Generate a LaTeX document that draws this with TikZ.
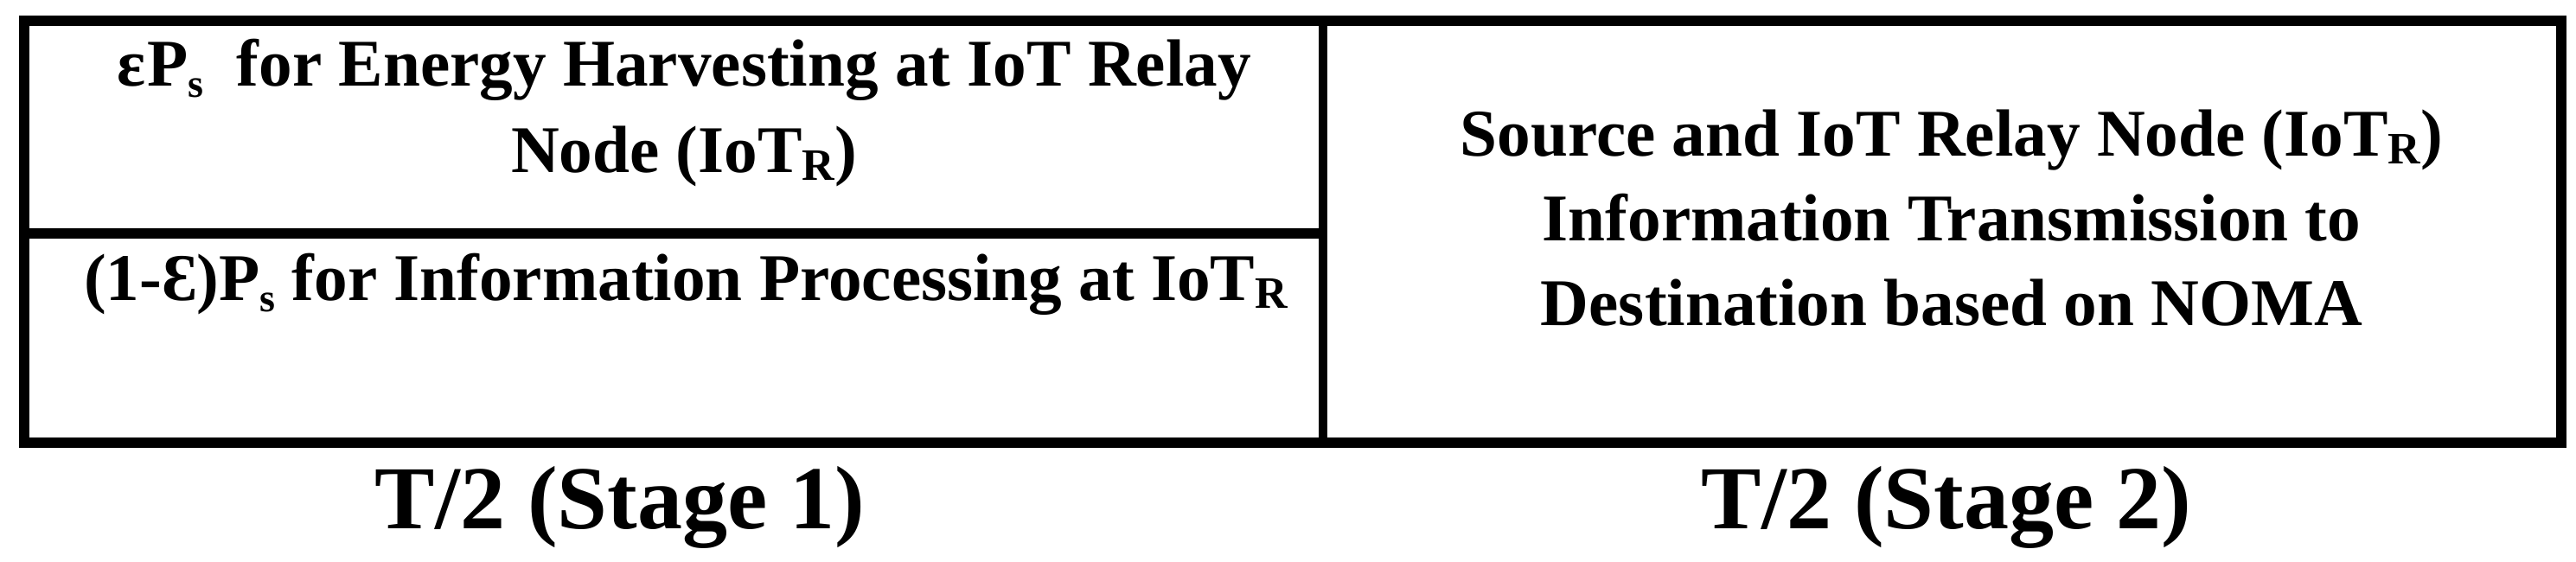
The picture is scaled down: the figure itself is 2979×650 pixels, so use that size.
\documentclass[tikz,border=0pt]{standalone}
\usepackage{fontspec}
\setmainfont{Liberation Serif}
\newcommand{\mysubR}[1]{\raisebox{-0.25ex}{\fontsize{13pt}{13pt}\selectfont #1}}
\newcommand{\mysubs}[1]{\raisebox{-0.35ex}{\fontsize{11.5pt}{12pt}\selectfont #1}}
\begin{document}
\begin{tikzpicture}[x=0.25pt,y=-0.25pt,
  txt/.style={font=\fontsize{19.3pt}{25pt}\selectfont\bfseries, inner sep=0pt, align=center},
  txtr/.style={font=\fontsize{19.3pt}{24.6pt}\selectfont\bfseries, inner sep=0pt, align=center},
  lbl/.style={font=\fontsize{26pt}{30pt}\selectfont\bfseries, inner sep=0pt},
  outer/.style={line width=3pt},
  divider/.style={line width=2.6pt}]
\useasboundingbox (0,0) rectangle (2979,650);
% frame
\draw[outer] (28,24) rectangle (2962,512);
\draw[divider] (1530,24) -- (1530,512);
\draw[outer] (28,270) -- (1530,270);
% texts (base anchor = baseline of last line)
\node[txt, anchor=base] (eh) at (791,200) {ε\kern0.5pt P\mysubs{s}\ \ for Energy Harvesting at IoT Relay\\Node (IoT\mysubR{R})};
\node[txt, anchor=base] (ip) at (793,348) {(1-Ɛ)P\mysubs{s} for Information Processing at IoT\mysubR{R}};
\node[txtr, anchor=base] (tx) at (2257,377) {Source and IoT Relay Node (IoT\mysubR{R})\\Information Transmission to\\Destination based on NOMA};
\node[lbl, anchor=base] (s1) at (717,612) {T/2 (Stage 1)};
\node[lbl, anchor=base] (s2) at (2251,612) {T/2 (Stage 2)};
\end{tikzpicture}
\end{document}
